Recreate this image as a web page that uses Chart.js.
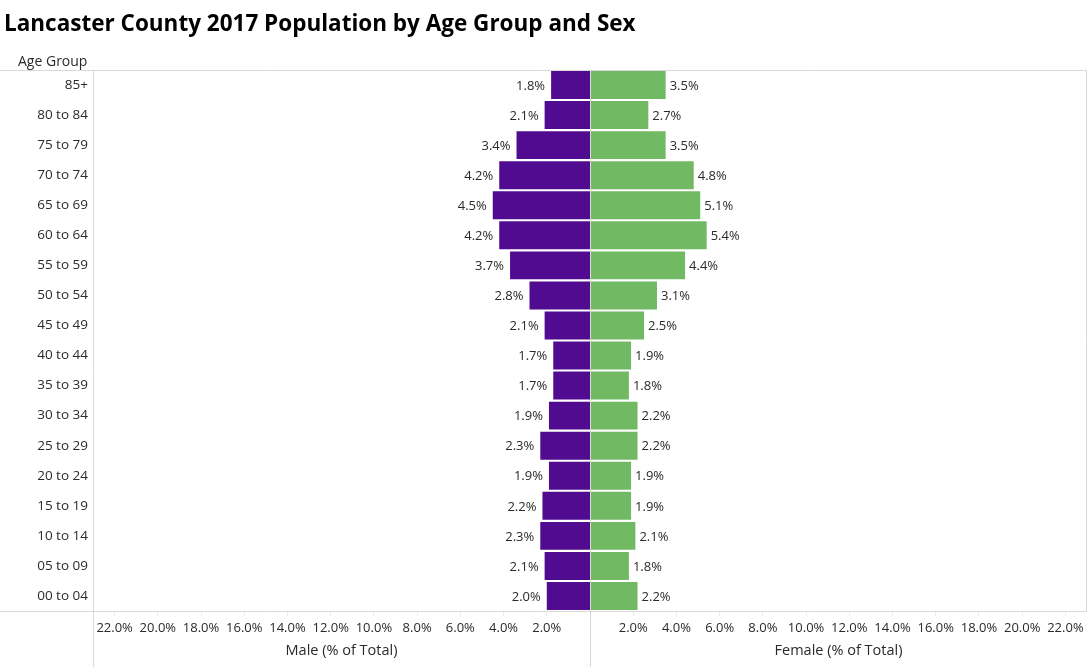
<!DOCTYPE html>
<html>
<head>
<meta charset="utf-8">
<script src="https://cdn.jsdelivr.net/npm/chart.js@4.4.1/dist/chart.umd.min.js"></script>
<style>
html,body{margin:0;padding:0;background:#fff;}
#wrap{position:relative;width:1090px;height:667px;}
</style>
</head>
<body>
<div id="wrap"><canvas id="c" width="1090" height="667"></canvas></div>
<script>
const ageGroups = ["85+","80 to 84","75 to 79","70 to 74","65 to 69","60 to 64","55 to 59","50 to 54","45 to 49","40 to 44","35 to 39","30 to 34","25 to 29","20 to 24","15 to 19","10 to 14","05 to 09","00 to 04"];
const malePct   = [1.8,2.1,3.4,4.2,4.5,4.2,3.7,2.8,2.1,1.7,1.7,1.9,2.3,1.9,2.2,2.3,2.1,2.0];
const femalePct = [3.5,2.7,3.5,4.8,5.1,5.4,4.4,3.1,2.5,1.9,1.8,2.2,2.2,1.9,1.9,2.1,1.8,2.2];
const tickValues = [2,4,6,8,10,12,14,16,18,20,22];
const titleText = "Lancaster County 2017 Population by Age Group and Sex";
const rowAxisTitle = "Age Group";
const maleAxisTitle = "Male (% of Total)";
const femaleAxisTitle = "Female (% of Total)";

const FONT = "'Open Sans', sans-serif";
const TXT = "#2a2a2a";
const LINE = "#d9d9d9";

const decor = {
  id: 'decor',
  beforeDraw(chart) {
    const ctx = chart.ctx;
    ctx.save();
    ctx.fillStyle = '#000';
    ctx.font = "bold 22.5px 'Open Sans', sans-serif";
    ctx.textBaseline = 'alphabetic';
    ctx.textAlign = 'left';
    ctx.fillText(titleText, 4, 31);
    ctx.fillStyle = TXT;
    ctx.font = "14px " + FONT;
    ctx.textBaseline = 'middle';
    ctx.fillText(rowAxisTitle, 18, 62);
    ctx.restore();
  },
  afterDatasetsDraw(chart) {
    const ctx = chart.ctx, a = chart.chartArea;
    const x0 = chart.scales.x.getPixelForValue(0);
    ctx.save();
    ctx.strokeStyle = LINE;
    ctx.lineWidth = 1;
    ctx.beginPath();
    ctx.moveTo(0, Math.round(a.top) + 0.5); ctx.lineTo(a.right, Math.round(a.top) + 0.5);
    ctx.moveTo(0, Math.round(a.bottom) + 0.5); ctx.lineTo(a.right, Math.round(a.bottom) + 0.5);
    ctx.moveTo(Math.round(a.right) - 0.5, a.top); ctx.lineTo(Math.round(a.right) - 0.5, a.bottom);
    ctx.moveTo(Math.round(a.left) + 0.5, a.top); ctx.lineTo(Math.round(a.left) + 0.5, chart.height);
    ctx.moveTo(Math.round(x0) + 0.5, a.top); ctx.lineTo(Math.round(x0) + 0.5, chart.height);
    ctx.stroke();

    ctx.font = "13px " + FONT;
    ctx.fillStyle = TXT;
    ctx.textBaseline = 'middle';
    chart.getDatasetMeta(0).data.forEach((bar, i) => {
      ctx.textAlign = 'right';
      ctx.fillText(malePct[i].toFixed(1) + '%', bar.x - 6, bar.y + 1);
    });
    chart.getDatasetMeta(1).data.forEach((bar, i) => {
      ctx.textAlign = 'left';
      ctx.fillText(femalePct[i].toFixed(1) + '%', bar.x + 4, bar.y + 1);
    });

    ctx.font = "14.5px " + FONT;
    ctx.textAlign = 'center';
    ctx.fillText(maleAxisTitle, (a.left + x0) / 2, 651);
    ctx.fillText(femaleAxisTitle, (x0 + a.right) / 2, 651);
    ctx.restore();
  }
};

new Chart(document.getElementById('c'), {
  type: 'bar',
  data: {
    labels: ageGroups,
    datasets: [
      { label: 'Male', data: malePct.map(v => -v), backgroundColor: '#510b90', barPercentage: 0.93, categoryPercentage: 1 },
      { label: 'Female', data: femalePct, backgroundColor: '#72b964', barPercentage: 0.93, categoryPercentage: 1 }
    ]
  },
  options: {
    indexAxis: 'y',
    responsive: false,
    animation: false,
    layout: { padding: { top: 70, right: 3, left: 0, bottom: 0 } },
    plugins: { legend: { display: false }, tooltip: { enabled: false }, title: { display: false } },
    scales: {
      x: {
        stacked: true,
        min: -23, max: 23,
        afterBuildTicks(scale) {
          const t = [];
          for (let i = tickValues.length - 1; i >= 0; i--) t.push({ value: -tickValues[i] });
          tickValues.forEach(v => t.push({ value: v }));
          scale.ticks = t;
        },
        afterFit(scale) { scale.height = 56; },
        border: { display: false },
        grid: { drawOnChartArea: false, drawTicks: true, tickLength: 5, tickColor: '#ececec' },
        ticks: {
          autoSkip: false, maxRotation: 0, padding: 4,
          color: TXT, font: { family: FONT, size: 13 },
          callback: v => Math.abs(v).toFixed(1) + '%'
        }
      },
      y: {
        stacked: true,
        afterFit(scale) { scale.width = 93; },
        border: { display: false },
        grid: { display: false, drawTicks: false, tickLength: 0 },
        ticks: { color: TXT, padding: 5, font: { family: FONT, size: 13.5 } }
      }
    }
  },
  plugins: [decor]
});
</script>
</body>
</html>
